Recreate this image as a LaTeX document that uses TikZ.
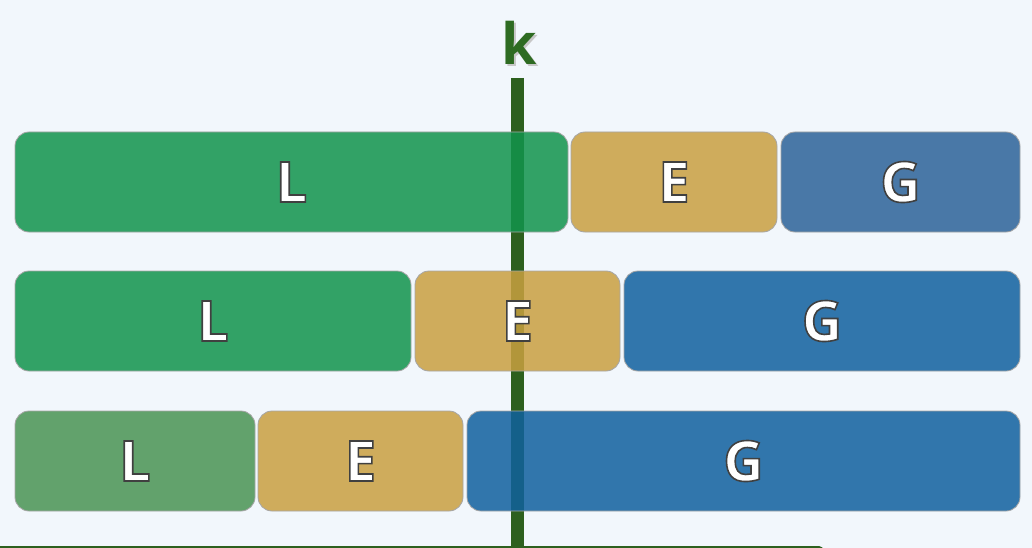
\documentclass[tikz,border=0pt]{standalone}
\usepackage{fontspec}
\setmainfont{Open Sans}
\definecolor{bgc}{HTML}{F2F7FC}
\definecolor{lgreen}{HTML}{11944C}
\definecolor{lgreenb}{HTML}{499453}
\definecolor{eyel}{HTML}{CAA040}
\definecolor{gblue}{HTML}{2C6299}
\definecolor{gblueb}{HTML}{10609E}
\definecolor{kline}{HTML}{2D601E}
\definecolor{ktext}{HTML}{2E6B22}
\newcommand\olt[1]{\textcolor{white}{\special{pdf:literal direct 2 Tr 1.6 w 0.25 0.25 0.25 RG}#1\special{pdf:literal direct 0 Tr}}}
\newcommand\kshadow[1]{\leavevmode\rlap{\textcolor{black!22}{\raisebox{-2pt}{\kern2pt#1}}}\textcolor{ktext}{#1}}
\begin{document}
\begin{tikzpicture}[x=1pt,y=-1pt,
  part/.style={rectangle, rounded corners=14pt, draw=black!35, line width=0.8pt,
    fill opacity=0.85, text opacity=1, minimum height=100pt, inner sep=0pt,
    font=\fontsize{56}{56}\selectfont\bfseries, anchor=center},
]
\useasboundingbox (0,0) rectangle (1032,548);
\fill[bgc] (0,0) rectangle (1032,548);
% pivot line
\coordinate (ktop) at (517,78);
\coordinate (kbot) at (517,548);
\draw[kline, line width=13pt] (ktop) -- (kbot);
\node (klabel) at (519,44) {\fontsize{57}{57}\selectfont\bfseries\kshadow{k}};
% bottom line
\coordinate (bl) at (-10,550.5);
\coordinate (br) at (819,550.5);
\draw[kline, line width=9pt, line cap=round] (bl) -- (br);
% row 1
\node[part, fill=lgreen, minimum width=553pt] (l1) at (291.5,182) {\olt{L}};
\node[part, fill=eyel, minimum width=206pt] (e1) at (674,182) {\olt{E}};
\node[part, fill=gblue, minimum width=239pt] (g1) at (900.5,182) {\olt{G}};
% row 2
\node[part, fill=lgreen, minimum width=396pt] (l2) at (213,321) {\olt{L}};
\node[part, fill=eyel, minimum width=205pt] (e2) at (517.5,321) {\olt{E}};
\node[part, fill=gblueb, minimum width=396pt] (g2) at (822,321) {\olt{G}};
% row 3
\node[part, fill=lgreenb, minimum width=240pt] (l3) at (135,461) {\olt{L}};
\node[part, fill=eyel, minimum width=205pt] (e3) at (360.5,461) {\olt{E}};
\node[part, fill=gblueb, minimum width=553pt] (g3) at (743.5,461) {\olt{G}};
\end{tikzpicture}
\end{document}
